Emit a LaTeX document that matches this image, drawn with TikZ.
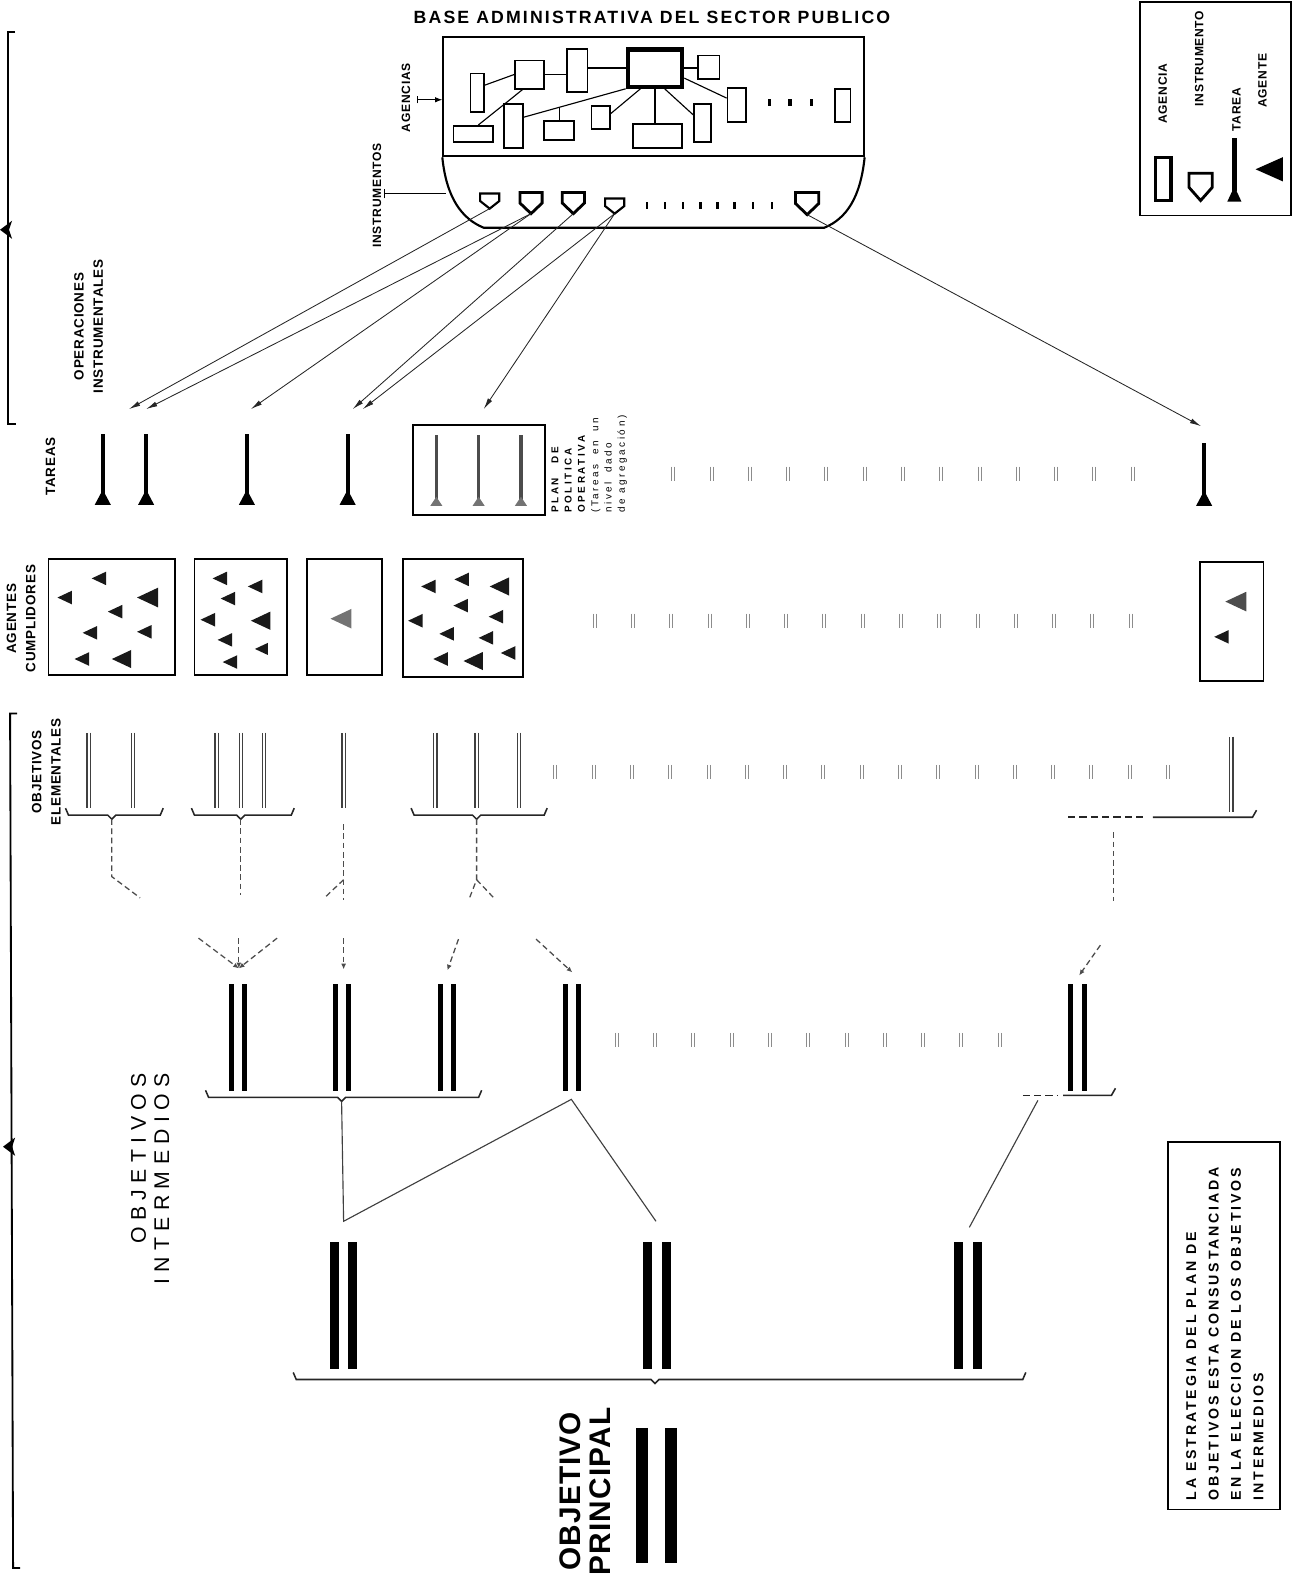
\documentclass[tikz,border=0pt]{standalone}
\usepackage{fontspec}
\setmainfont{Liberation Sans}
\newfontfamily\titfont[LetterSpace=12]{Liberation Sans}
\newfontfamily\rowfont[LetterSpace=6]{Liberation Sans}
\newfontfamily\widefont[LetterSpace=30]{Liberation Sans}
\newfontfamily\bigfont[LetterSpace=4]{Liberation Sans}
\newfontfamily\planfont[LetterSpace=26]{Liberation Sans}
\newfontfamily\notefont[LetterSpace=20]{Liberation Sans}
\usetikzlibrary{positioning,arrows.meta,fit,calc}

\tikzset{
  marco/.style={draw, inner sep=0pt, line width=1.2pt},
  agencia/.style={draw, inner sep=0pt, line width=1.3pt},
  enlace/.style={line width=0.8pt},
  rotulo/.style={rotate=90, align=center, inner sep=0pt,
    font=\rowfont\bfseries\fontsize{9.5}{13.5}\selectfont},
  chico/.style={rotate=90, inner sep=0pt,
    font=\rowfont\bfseries\fontsize{8.5}{10}\selectfont},
  operacion/.style={line width=0.6pt, black!85, -{Latex[length=8pt,width=3.5pt]}},
  tarea/.style={line width=3pt},
  marca/.style={line width=0.5pt, black!45},
  elemental/.style={line width=0.9pt, draw=black!75, double=white, double distance=1.3pt},
  intermedio/.style={line width=3.6pt},
  superior/.style={line width=6.4pt},
  principal/.style={line width=8.5pt},
  punteado/.style={line width=0.9pt, black!70, dash pattern=on 4pt off 2.5pt},
  fpunteado/.style={punteado, -{Latex[length=4pt,width=3.5pt]}},
  llave/.style={line width=1.1pt, black!85},
  agente/.style={black!90}
}

\begin{document}
\begin{tikzpicture}[x=0.025cm, y=-0.025cm]
    \useasboundingbox (0,0) rectangle (1282,1568);

    % base administrativa
    \node[font=\titfont\bfseries\fontsize{12.5}{14}\selectfont, inner sep=0pt] (titulo) at (647,17) {BASE ADMINISTRATIVA DEL SECTOR PUBLICO};
    \node[marco, line width=1.5pt, fit={(440,37) (857,155)}] (base) {};
    \draw[line width=1.5pt] (base.south west) .. controls (443,196) and (458,217) .. (480,226) -- (818,226) .. controls (840,217) and (854,196) .. (base.south east);

    % agencias
    \foreach \n/\a/\b/\c/\d in {r1/467/73/480/111, r2/511/60/540/88, r3/563/49/583/91, r5/693/55/714/78,
        r6/722/87/740/121, r7/829/88/844/121, r8/450/125/489/141, r9/500/103/519/147,
        r10/540/120/570/139, r11/587/105/605/128, r12/628/123/677/147, r13/689/103/706/141} {
        \node[agencia, fit={(\a,\b) (\c,\d)}] (\n) {};
    }
    \node[agencia, line width=3pt, fit={(623,49) (677,86)}] (rc) {};
    \draw[enlace] (r1.45) -- (r2.west);
    \draw[enlace] (r2.east) -- (r2.east -| r3.west);
    \draw[enlace] (r3.east |- rc.west) -- (rc.west);
    \draw[enlace] (rc.east) -- (rc.east -| r5.west);
    \draw[enlace] (r8.60) -- (r2.-115);
    \draw[enlace] (r9.40) -- (rc.south west);
    \coordinate (cruce) at ($(r9.40)!0.346!(rc.south west)$);
    \draw[enlace] (r10.north) -- (r10.north |- cruce);
    \draw[enlace] (r11.20) -- (rc.-125);
    \draw[enlace] (rc.south) -- (rc.south |- r12.north);
    \draw[enlace] (rc.-65) -- (r13.140);
    \draw[enlace] (rc.-19) -- (r6.146);
    \foreach \x in {764,784,805} {
        \fill (\x-1.5,98) rectangle (\x+1.5,105);
    }

    % instrumentos
    \foreach \x/\t/\w/\h/\l [count=\n] in {486/192/19/15/1.5, 527/191/22/21/2, 569/191/22/21/2, 610/197/19/15/1.5, 801/191/23/22/2} {
        \draw[line width=\l pt, fill=white] (\x-\w/2,\t) -- (\x+\w/2,\t) -- (\x+\w/2,\t+0.5*\h) -- (\x,\t+\h) -- (\x-\w/2,\t+0.5*\h) -- cycle;
        \coordinate (i\n) at (\x,\t+\h);
    }
    \foreach \x in {642,660,678,695,712,729,747,766} {
        \fill (\x-1.2,200) rectangle (\x+1.2,207);
    }

    \node[chico] (lagencias) at (403,97) {AGENCIAS};
    \coordinate (agtick) at (414,99);
    \draw[line width=0.7pt, {Bar[width=5pt]}-{Latex[length=5pt]}] (agtick) -- (agtick -| base.west);
    \node[chico] (linstrumentos) at (374,194) {INSTRUMENTOS};
    \coordinate (intick) at (381,192);
    \coordinate (inend) at (443,192);
    \draw[line width=0.7pt, {Bar[width=7pt]}-] (intick) -- (inend);

    % leyenda
    \node[marco, fit={(1131,2) (1281,214)}] (leyenda) {};
    \node[agencia, line width=2.4pt, fit={(1147,156) (1162,199)}] (legag) {};
    \draw[line width=2pt] (1180,172) -- (1203,172) -- (1203,186) -- (1191.5,199) -- (1180,186) -- cycle;
    \draw[tarea] (1225,137) -- (1225,190);
    \fill (1218,200) -- (1232,200) -- (1225,185) -- cycle;
    \fill (1246,168) -- (1273,156) -- (1273,180) -- cycle;
    \node[chico] (lagencia) at (1154,93) {AGENCIA};
    \node[chico] (linstrumento) at (1190,58) {INSTRUMENTO};
    \node[chico] (ltarea) at (1227,109) {TAREA};
    \node[chico] (lagente) at (1253,80) {AGENTE};

    % llaves laterales
    \draw[line width=1.3pt] (15,32) -- (8,32) -- (8,421) -- (16,421);
    \fill (0,228) -- (12,219) -- (9,228) -- (12,237) -- cycle;
    \draw[line width=1.3pt] (17,708) -- (10,708) -- (13,1556) -- (20,1556);
    \fill (3,1138) -- (15,1129) -- (12,1138) -- (15,1147) -- cycle;

    % rotulos
    \node[rotulo] (loper) at (88,324) {OPERACIONES\\INSTRUMENTALES};
    \node[rotulo] (ltareas) at (50,463) {TAREAS};
    \node[rotulo] (lagentes) at (21,614) {AGENTES\\CUMPLIDORES};
    \node[rotulo] (lelem) at (46,766) {OBJETIVOS\\ELEMENTALES};
    \node[rotate=90, align=right, inner sep=0pt, font=\widefont\fontsize{15}{16.4}\selectfont] (linter) at (149,1170) {OBJETIVOS\\INTERMEDIOS};
    \node[rotate=90, align=center, inner sep=0pt, font=\bigfont\bfseries\fontsize{21}{21.5}\selectfont] (lprincipal) at (581,1480) {OBJETIVO\\PRINCIPAL};

    % tareas
    \foreach \x in {102,145,245,345} {
        \draw[tarea] (\x,431) -- (\x,492);
        \fill (\x-8,501) -- (\x+8,501) -- (\x,486) -- cycle;
    }
    \draw[tarea] (1195,440) -- (1195,492);
    \fill (1187,502) -- (1203,502) -- (1195,487) -- cycle;
    \node[marco, fit={(410,422) (541,511)}] (plan) {};
    \foreach \x in {433,475,517} {
        \draw[tarea, black!70, line width=2.5pt] (\x,432) -- (\x,497);
        \fill[black!55] (\x-6,502) -- (\x+6,502) -- (\x,493) -- cycle;
    }
    \node[rotate=90, anchor=north west, align=left, inner sep=0pt, font=\planfont\fontsize{7}{9.4}\selectfont] (plantxt) at (547,509)
        {\textbf{PLAN\hspace{10pt}DE}\\\textbf{POLITICA}\\\textbf{OPERATIVA}\\(Tareas\hspace{3pt} en\hspace{3pt} un\\nivel\hspace{3pt} dado\\de agregación)};
    \foreach \x in {668,706,...,1124} {
        \draw[marca] (\x-1.5,463) -- (\x-1.5,477) (\x+1.5,463) -- (\x+1.5,477);
    }

    % operaciones instrumentales
    \coordinate (a1) at (128,406);
    \coordinate (a2) at (145,406);
    \coordinate (a3) at (249,406);
    \coordinate (a4) at (350,406);
    \coordinate (a5) at (360,406);
    \coordinate (a6) at (480,406);
    \coordinate (a7) at (1192,423);
    \draw[operacion] (i1) -- (a1);
    \draw[operacion] (i2) -- (a2);
    \draw[operacion] (i2) -- (a3);
    \draw[operacion] (i3) -- (a4);
    \draw[operacion] (i4) -- (a5);
    \draw[operacion] (i4) -- (a6);
    \draw[operacion] (i5) -- (a7);

    % agentes
    \foreach \n/\a/\b/\c/\d in {ag1/48/555/174/670, ag2/193/555/285/670, ag3/305/555/379/670, ag4/400/555/519/672, ag5/1191/558/1254/676} {
        \node[marco, fit={(\a,\b) (\c,\d)}] (\n) {};
    }
    \foreach \x/\y/\s in {100/574/9, 66/593/9, 149/593/13, 116/607/9, 91/628/9, 145/627/9, 83/654/9, 123/654/12,
        220/574/9, 255/582/9, 228/594/9, 208/615/9, 261/616/12, 225/635/9, 261/644/8, 230/657/9,
        427/582/9, 460/575/9, 498/582/12, 459/601/9, 414/616/9, 494/612/9, 445/629/9, 484/633/9, 506/648/9, 439/654/9, 472/656/12,
        1214/632/9} {
        \fill[agente] (\x-\s,\y) -- (\x+0.6*\s,\y-0.75*\s) -- (\x+0.6*\s,\y+0.75*\s) -- cycle;
    }
    \fill[black!55] (341-13,614) -- (341+7.8,614-9.75) -- (341+7.8,614+9.75) -- cycle;
    \fill[black!70] (1229-13,597) -- (1229+7.8,597-9.75) -- (1229+7.8,597+9.75) -- cycle;
    \foreach \x in {590,628,...,1122} {
        \draw[marca] (\x-1.5,609) -- (\x-1.5,623) (\x+1.5,609) -- (\x+1.5,623);
    }

    % objetivos elementales
    \foreach \x in {88,132,215,239,262,341,432,473,515} {
        \draw[elemental] (\x,727) -- (\x,802);
    }
    \draw[elemental] (1222,731) -- (1222,806);
    \foreach \x in {551,589,...,1159} {
        \draw[marca] (\x-1.5,759) -- (\x-1.5,773) (\x+1.5,759) -- (\x+1.5,773);
    }

    % llaves
    \foreach \a/\c/\b/\y [count=\n] in {68/111/159/809, 193/239/289/809, 411/473/540/809, 207/339/475/1089, 294/650/1015/1369} {
        \draw[llave] (\a-3,\y-7) -- (\a,\y) -- (\c-4,\y) -- (\c,\y+4) -- (\c+4,\y) -- (\b,\y) -- (\b+3,\y-7);
        \coordinate (ll\n) at (\c,\y+4);
    }
    \draw[llave] (1144,811) -- (1243,811) -- (1247,804);
    \draw[llave, dash pattern=on 5pt off 3pt] (1060,811) -- (1138,811);
    \draw[llave] (1055,1087) -- (1103,1087) -- (1107,1080);
    \draw[llave, dash pattern=on 5pt off 3pt] (1015,1087) -- (1050,1087);

    % elementales -> intermedios
    \coordinate (ob6) at (341,818);
    \coordinate (llr) at (1105,811);
    \draw[punteado] (ll1) -- ++(0,57) -- ++(28,21);
    \draw[punteado] (ll2) -- ++(0,75);
    \draw[punteado] (ob6) -- ++(0,75);
    \draw[punteado] ($(ob6)+(0,55)$) -- ++(-19,18);
    \draw[punteado] (ll3) -- ++(0,60) -- ++(-7,18);
    \draw[punteado] ($(ll3)+(0,60)$) -- ++(17,18);
    \draw[punteado] (llr) ++(0,15) -- ++(0,68);
    \coordinate (m1) at (237,961);
    \coordinate (m2) at (341,962);
    \coordinate (m3) at (444,963);
    \coordinate (m4) at (568,965);
    \coordinate (m5) at (1071,968);
    \draw[fpunteado] (197,931) -- (m1);
    \draw[fpunteado] (237,931) -- (m1);
    \draw[fpunteado] (275,931) -- (m1);
    \draw[fpunteado] (341,931) -- (m2);
    \draw[fpunteado] (455,932) -- (m3);
    \draw[fpunteado] (532,932) -- (m4);
    \draw[fpunteado] (1092,938) -- (m5);

    % objetivos intermedios
    \foreach \x in {230,243,333,346,437,450,561,574,1062,1076} {
        \draw[intermedio] (\x,977) -- (\x,1083);
    }
    \foreach \x in {612,650,...,992} {
        \draw[marca] (\x-1.5,1025) -- (\x-1.5,1039) (\x+1.5,1025) -- (\x+1.5,1039);
    }
    \coordinate (n1) at (341,1212);
    \coordinate (cima) at (567,1091);
    \coordinate (n2) at (651,1212);
    \coordinate (n3) at (962,1218);
    \coordinate (llr2) at (1030,1092);
    \draw[enlace, black!75] (ll4) -- (n1) -- (cima) -- (n2);
    \draw[enlace, black!75] (llr2) -- (n3);
    \foreach \x in {332,350,643,661,951,970} {
        \draw[superior] (\x,1233) -- (\x,1359);
    }

    % objetivo principal
    \foreach \x in {637,666} {
        \draw[principal] (\x,1417) -- (\x,1551);
    }

    % nota
    \node[marco, fit={(1159,1133) (1270,1498)}] (nota) {};
    \node[rotate=90, anchor=north west, align=left, inner sep=0pt, font=\notefont\bfseries\fontsize{10}{15.8}\selectfont] (notatxt) at (1177,1489)
        {LA ESTRATEGIA DEL PLAN DE\\OBJETIVOS ESTA CONSUSTANCIADA\\EN LA ELECCION DE LOS OBJETIVOS\\INTERMEDIOS};
\end{tikzpicture}
\end{document}
